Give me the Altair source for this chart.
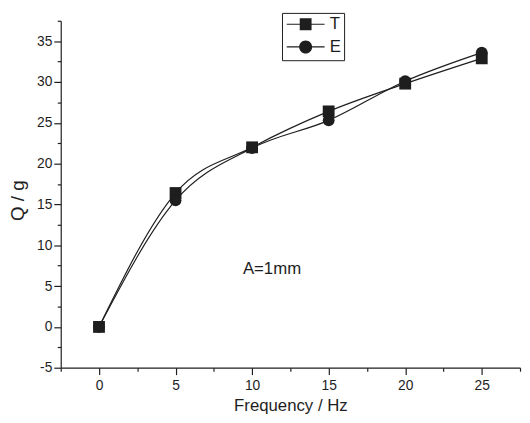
import altair as alt
import pandas as pd

# ---- data ----
freq = [0, 5, 10, 15, 20, 25]
q_t = [0.0, 16.4, 22.0, 26.4, 29.8, 32.9]
q_e = [0.0, 15.5, 21.9, 25.3, 30.1, 33.6]
series_names = ["T", "E"]
x_tick_values = [-2.5, 0, 2.5, 5, 7.5, 10, 12.5, 15, 17.5, 20, 22.5, 25, 27.5]
y_tick_values = [-5, -2.5, 0, 2.5, 5, 7.5, 10, 12.5, 15, 17.5, 20, 22.5, 25,
                 27.5, 30, 32.5, 35, 37.5]
note_text = ["A=1mm"]
note_x = [11.3]
note_y = [7.1]

df = pd.DataFrame({
    "Frequency": freq + freq,
    "Q": q_t + q_e,
    "Series": [series_names[0]] * len(freq) + [series_names[1]] * len(freq),
})
note_df = pd.DataFrame({"x": note_x, "y": note_y, "text": note_text})

FONT = "Liberation Sans"
INK = "#1e1e1e"

minor_test = "datum.value % 5 !== 0"
label_expr = "datum.value % 5 === 0 ? toString(datum.value) : ''"

x_scale = alt.Scale(domain=[-2.5, 27.5], nice=False, zero=False)
y_scale = alt.Scale(domain=[-5, 37.5], nice=False, zero=False)

x_axis = alt.Axis(
    values=x_tick_values, tickCount=100, labelExpr=label_expr,
    tickSize={"condition": {"test": minor_test, "value": 3.5}, "value": 7},
    title="Frequency / Hz", titleBaseline="alphabetic", titleY=43,
    titleFontSize=17,
    labelPadding=4, grid=False, labelFlush=False, labelOverlap=False,
)
y_axis = alt.Axis(
    values=y_tick_values, tickCount=100, labelExpr=label_expr,
    tickSize={"condition": {"test": minor_test, "value": 3.5}, "value": 7},
    title="Q / g", titleBaseline="alphabetic", titleX=-37.5, titleY=182,
    titleAngle=-90, titleAlign="center", titleFontSize=19,
    labelPadding=2, grid=False, labelFlush=False, labelOverlap=False,
)

base = alt.Chart(df)

lines = base.mark_line(interpolate="monotone", color=INK, strokeWidth=1.2).encode(
    x=alt.X("Frequency:Q", scale=x_scale, axis=x_axis),
    y=alt.Y("Q:Q", scale=y_scale, axis=y_axis),
    detail="Series:N",
)

points = base.mark_point(filled=True, color=INK, size=144, opacity=1).encode(
    x=alt.X("Frequency:Q", scale=x_scale),
    y=alt.Y("Q:Q", scale=y_scale),
    shape=alt.Shape("Series:N",
                    scale=alt.Scale(domain=series_names, range=["square", "circle"]),
                    legend=None),
)

# legend symbols: a thin filled bar (the line) with the marker in the middle
bar = ("M -3.2 -0.09 L -1 -0.09 L -1 0.09 L -3.2 0.09 Z "
       "M 1 -0.09 L 3.2 -0.09 L 3.2 0.09 L 1 0.09 Z ")
sq_path = bar + "M -1 -1 L 1 -1 L 1 1 L -1 1 Z"
ci_path = bar + "M -1.1 0 A 1.1 1.1 0 1 1 1.1 0 A 1.1 1.1 0 1 1 -1.1 0 Z"

legend_layer = base.transform_filter("false").mark_point(
    filled=True, color=INK, size=144, opacity=1
).encode(
    x=alt.X("Frequency:Q", scale=x_scale),
    y=alt.Y("Q:Q", scale=y_scale),
    shape=alt.Shape(
        "Series:N",
        scale=alt.Scale(domain=series_names, range=[sq_path, ci_path]),
        legend=alt.Legend(
            title=None, orient="none", legendX=224.5, legendY=-8,
            symbolSize=144, symbolOffset=12.5, labelOffset=16, padding=3,
            rowPadding=3, strokeColor=INK, symbolFillColor=INK,
            symbolOpacity=1,
            labelFont=FONT, labelFontSize=17, labelColor=INK,
        ),
    ),
)

note = alt.Chart(note_df).mark_text(
    font=FONT, fontSize=17, color=INK, align="center", baseline="middle"
).encode(
    x=alt.X("x:Q", scale=x_scale),
    y=alt.Y("y:Q", scale=y_scale),
    text="text:N",
)

chart = alt.layer(lines, points, legend_layer, note).resolve_scale(
    shape="independent"
).properties(
    width=466, height=352,
    autosize=alt.AutoSizeParams(type="none"),
    padding={"left": 53.5, "top": 10, "right": 2, "bottom": 45},
).configure_view(stroke=None).configure_axis(
    domainColor=INK, domainWidth=1.2, tickColor=INK, tickWidth=1.2,
    labelFont=FONT, labelFontSize=14, labelColor=INK,
    titleFont=FONT, titleColor=INK, titleFontWeight="normal",
)

chart.save("out.html", embed_options={"renderer": "svg", "actions": False})
